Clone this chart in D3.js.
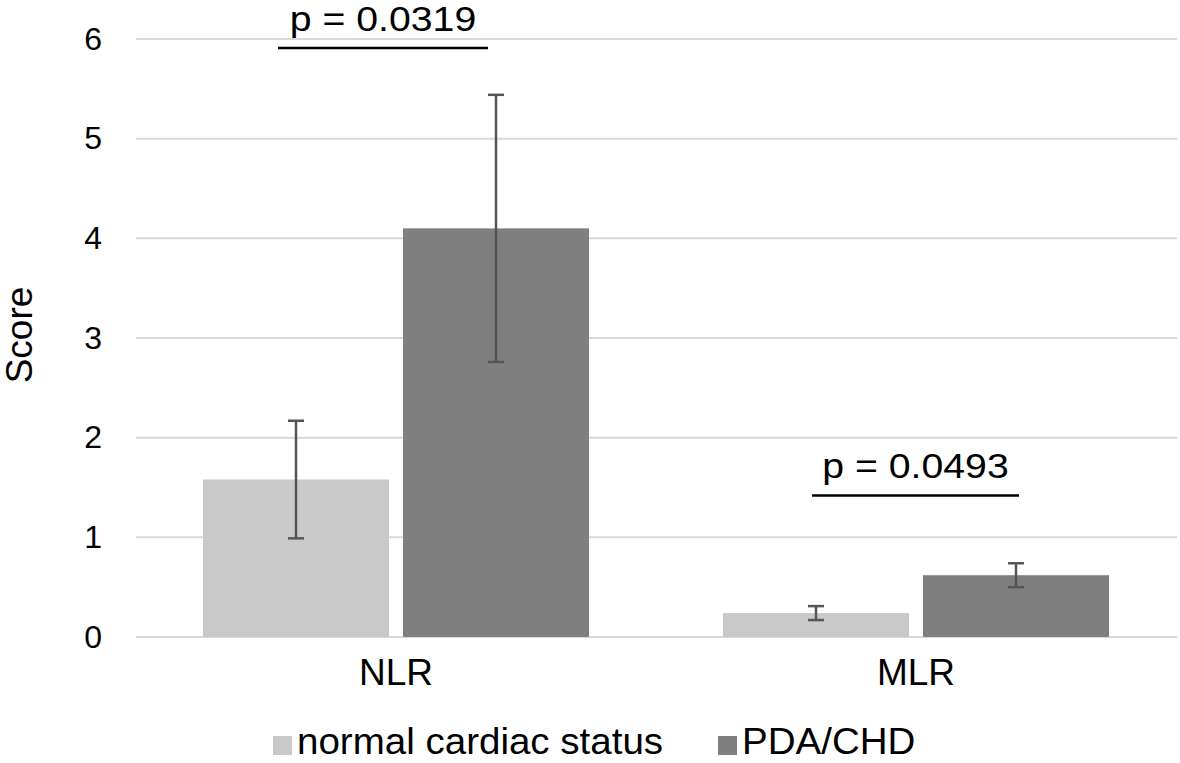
<!DOCTYPE html>
<html>
<head>
<meta charset="utf-8">
<script src="https://cdn.jsdelivr.net/npm/d3@7"></script>
<style>
  body { margin: 0; background: white; }
  text { font-family: 'Liberation Sans', Arial, Helvetica, sans-serif; fill: #000; }
</style>
</head>
<body>
<div id="chart"></div>
<script>
// data
const categories = ['NLR', 'MLR'];
const seriesNames = ['normal cardiac status', 'PDA/CHD'];
const seriesColors = ['#c9c9c9', '#7f7f7f'];
const normalValues = [1.58, 0.24];
const normalErrors = [0.59, 0.07];
const pdaValues = [4.10, 0.62];
const pdaErrors = [1.34, 0.12];
const yTicks = [0, 1, 2, 3, 4, 5, 6];
const pLabels = ['p = 0.0319', 'p = 0.0493'];
const pLevels = [5.91, 1.42];

const width = 1180, height = 763;
const margin = { top: 39, right: 4, bottom: 126, left: 136 };

const svg = d3.select('#chart')
  .append('svg')
  .attr('width', width)
  .attr('height', height);

const x0 = d3.scaleBand()
  .domain(categories)
  .range([margin.left, width - margin.right]);

const x1 = d3.scaleBand()
  .domain(seriesNames)
  .range([0, x0.bandwidth()])
  .paddingInner(0.07)
  .paddingOuter(0.335);

const y = d3.scaleLinear()
  .domain([0, 6])
  .range([height - margin.bottom, margin.top]);

// the original text is drawn a little wider than Liberation Sans
function widen(sel, k) {
  sel.each(function() {
    const w = this.getComputedTextLength();
    d3.select(this).attr('textLength', w * k).attr('lengthAdjust', 'spacingAndGlyphs');
  });
}

// gridlines
svg.append('g')
  .selectAll('line')
  .data(yTicks)
  .enter()
  .append('line')
    .attr('x1', margin.left)
    .attr('x2', width - 3)
    .attr('y1', d => y(d))
    .attr('y2', d => y(d))
    .attr('stroke', '#d9d9d9')
    .attr('stroke-width', 2);

// y axis labels
const yAxis = d3.axisLeft(y)
  .tickValues(yTicks)
  .tickFormat(d3.format('d'))
  .tickSize(0)
  .tickPadding(34);
svg.append('g')
  .attr('transform', `translate(${margin.left},0)`)
  .call(yAxis)
  .call(g => g.select('.domain').remove())
  .selectAll('text')
    .style('font-family', "'Liberation Sans', Arial, sans-serif")
    .style('font-size', '32px')
    .attr('fill', '#000');

// bars
const rows = categories.map((c, i) => ({
  cat: c,
  bars: [
    { s: seriesNames[0], v: normalValues[i], e: normalErrors[i], color: seriesColors[0] },
    { s: seriesNames[1], v: pdaValues[i], e: pdaErrors[i], color: seriesColors[1] }
  ]
}));

const groups = svg.append('g')
  .selectAll('g')
  .data(rows)
  .enter()
  .append('g')
    .attr('transform', d => `translate(${x0(d.cat)},0)`);

groups.selectAll('rect')
  .data(d => d.bars)
  .enter()
  .append('rect')
    .attr('x', d => x1(d.s))
    .attr('y', d => y(d.v))
    .attr('width', x1.bandwidth())
    .attr('height', d => y(0) - y(d.v))
    .attr('fill', d => d.color);

// error bars
const err = groups.selectAll('.err')
  .data(d => d.bars)
  .enter()
  .append('g')
    .attr('class', 'err')
    .attr('stroke', '#555')
    .attr('stroke-width', 2.5);

const cx = d => x1(d.s) + x1.bandwidth() / 2;
err.append('line')
  .attr('x1', cx).attr('x2', cx)
  .attr('y1', d => y(d.v + d.e))
  .attr('y2', d => y(d.v - d.e));
err.append('line')
  .attr('x1', d => cx(d) - 8).attr('x2', d => cx(d) + 8)
  .attr('y1', d => y(d.v + d.e)).attr('y2', d => y(d.v + d.e));
err.append('line')
  .attr('x1', d => cx(d) - 8).attr('x2', d => cx(d) + 8)
  .attr('y1', d => y(d.v - d.e)).attr('y2', d => y(d.v - d.e));

// significance brackets
const sig = svg.append('g')
  .selectAll('g')
  .data(categories.map((c, i) => ({ cat: c, label: pLabels[i], level: pLevels[i], idx: i })))
  .enter()
  .append('g');

const leftEnd = d => x0(d.cat) + x1(seriesNames[0]) + x1.bandwidth() / 2 - (d.idx === 0 ? 18 : 4);
const rightEnd = d => x0(d.cat) + x1(seriesNames[1]) + x1.bandwidth() / 2 - (d.idx === 0 ? 8 : -3);

sig.append('line')
  .attr('x1', leftEnd)
  .attr('x2', rightEnd)
  .attr('y1', d => y(d.level))
  .attr('y2', d => y(d.level))
  .attr('stroke', '#000')
  .attr('stroke-width', 2.5);

sig.append('text')
  .attr('x', d => (leftEnd(d) + rightEnd(d)) / 2)
  .attr('y', d => y(d.level) - 17)
  .attr('text-anchor', 'middle')
  .style('font-size', '35px')
  .text(d => d.label)
  .call(widen, 1.12);

// category labels
svg.append('g')
  .selectAll('text')
  .data(categories)
  .enter()
  .append('text')
    .attr('x', d => x0(d) + x0.bandwidth() / 2)
    .attr('y', 685)
    .attr('text-anchor', 'middle')
    .style('font-size', '37px')
    .text(d => d);

// y label
svg.append('text')
  .attr('text-anchor', 'middle')
  .attr('transform', 'translate(32,335)rotate(-90)')
  .style('font-size', '37px')
  .text('Score');

// legend
const legendX = [273, 718];
const legend = svg.append('g')
  .selectAll('g')
  .data(seriesNames)
  .enter()
  .append('g')
    .attr('transform', (d, i) => `translate(${legendX[i]},736)`);

legend.append('rect')
  .attr('width', 19)
  .attr('height', 19)
  .attr('fill', (d, i) => seriesColors[i]);

legend.append('text')
  .attr('x', 24)
  .attr('y', 18)
  .style('font-size', '36px')
  .text(d => d)
  .call(widen, 1.07);
</script>
</body>
</html>
